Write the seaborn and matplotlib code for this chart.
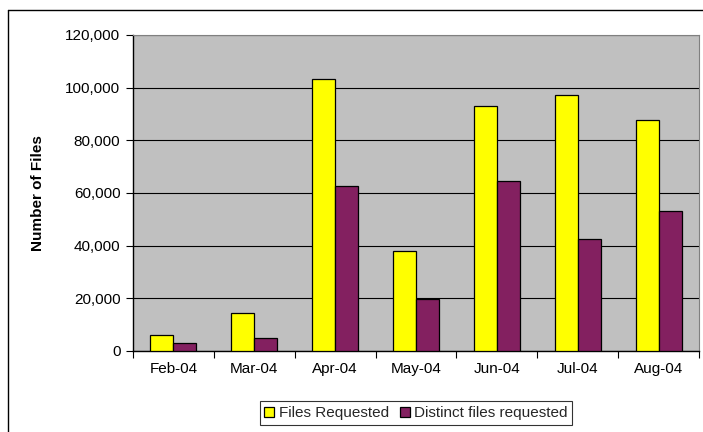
import matplotlib
matplotlib.use("Agg")
import matplotlib.pyplot as plt
import seaborn as sns
import pandas as pd
from matplotlib.lines import Line2D
from matplotlib.patches import Patch
from matplotlib.ticker import FuncFormatter, MultipleLocator, FixedLocator

months = ["Feb-04", "Mar-04", "Apr-04", "May-04", "Jun-04", "Jul-04", "Aug-04"]
files_requested = [6100, 14400, 103400, 38000, 93200, 97300, 87600]
distinct_requested = [3200, 5100, 62800, 19600, 64600, 42500, 53300]
series_names = ["Files Requested", "Distinct files requested"]
colors = ["#FFFF00", "#832060"]

df = pd.DataFrame({
    "Month": months * 2,
    "Series": [series_names[0]] * len(months) + [series_names[1]] * len(months),
    "Value": files_requested + distinct_requested,
})

sns.set_theme(style="white")
plt.rcParams["font.family"] = ["Liberation Sans", "DejaVu Sans"]

FS = 11
W, H = 703, 432
fig = plt.figure(figsize=(W / 100, H / 100), dpi=100)
ax = fig.add_axes([133 / W, 1 - 351 / H, (699 - 133) / W, (351 - 35) / H])
ax.set_facecolor("#C0C0C0")

sns.barplot(data=df, x="Month", y="Value", hue="Series", order=months,
            hue_order=series_names, palette=colors, width=0.57,
            edgecolor="black", linewidth=0.9, saturation=1, ax=ax, legend=False,
            zorder=3)

ax.set_ylim(0, 120000)
ax.set_xlim(-0.5, len(months) - 0.5)
ax.yaxis.set_major_locator(MultipleLocator(20000))
ax.yaxis.set_major_formatter(FuncFormatter(lambda v, p: f"{int(v):,}"))
ax.grid(axis="y", color="black", linewidth=0.8, zorder=1)
ax.set_axisbelow(True)

ax.set_xticks(range(len(months)))
ax.set_xticklabels(months)
ax.xaxis.set_minor_locator(FixedLocator([i - 0.5 for i in range(len(months) + 1)]))
ax.tick_params(axis="x", which="major", length=0, pad=8, labelsize=FS, colors="black")
ax.tick_params(axis="x", which="minor", length=5, width=0.8, color="black", direction="out", bottom=True)
ax.tick_params(axis="y", length=5, width=0.8, color="black", direction="out", left=True,
               labelsize=FS, pad=4, colors="black")

ax.set_xlabel("")
ax.set_ylabel("Number of Files", fontsize=FS, fontweight="bold", labelpad=15, color="black")

for s in ["left", "bottom"]:
    ax.spines[s].set_color("black")
    ax.spines[s].set_linewidth(1.0)
for s in ["top", "right"]:
    ax.spines[s].set_color("#808080")
    ax.spines[s].set_linewidth(0.8)

handles = [Patch(facecolor=c, edgecolor="black", linewidth=0.9, label=n)
           for c, n in zip(colors, series_names)]
leg = fig.legend(handles=handles, loc="center", bbox_to_anchor=(416 / W, 1 - 413 / H),
                 ncol=2, frameon=True, fancybox=False, edgecolor="black",
                 fontsize=FS, handlelength=0.65, handleheight=0.65, handletextpad=0.3,
                 columnspacing=0.7, borderpad=0.3, borderaxespad=0)
leg.get_frame().set_linewidth(0.8)

fig.add_artist(Line2D([8 / W, 8 / W], [0, 1 - 10 / H], transform=fig.transFigure,
                      color="black", linewidth=1))
fig.add_artist(Line2D([8 / W, 1], [1 - 10 / H, 1 - 10 / H], transform=fig.transFigure,
                      color="black", linewidth=1))

fig.savefig("out.png", dpi=100)
